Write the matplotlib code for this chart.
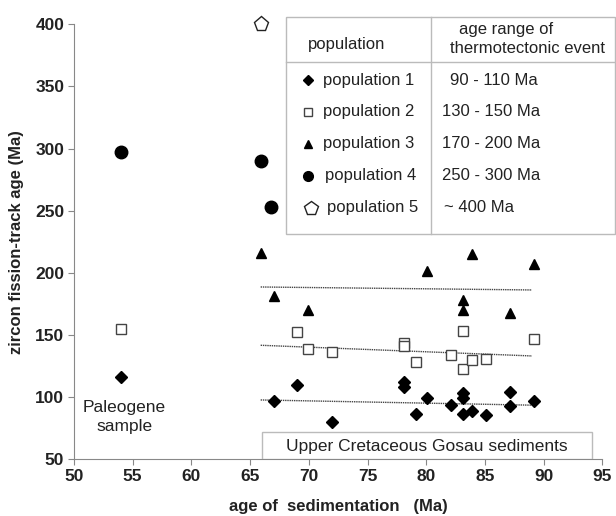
import matplotlib
matplotlib.use("Agg")
from matplotlib import pyplot as plt
from matplotlib.patches import Rectangle

plt.rcParams['font.family'] = ['Liberation Sans', 'DejaVu Sans']

# population 1 (diamonds)
pop1_x = [54, 67.0, 69.0, 72.0, 78.1, 78.1, 79.1, 80.1, 82.1, 83.1, 83.1, 83.1, 83.9, 85.1, 87.1, 87.1, 89.2]
pop1_y = [116, 97, 110, 80, 112, 108.5, 86.5, 99, 94, 103, 99, 86.5, 89, 85.5, 104.5, 93, 96.5]
# population 2 (open squares)
pop2_x = [54, 69.0, 69.9, 72.0, 78.1, 78.1, 79.1, 82.1, 83.1, 83.1, 83.9, 85.1, 89.2]
pop2_y = [154.5, 152, 139, 136, 143.5, 141, 128.5, 134, 153.5, 123, 129.5, 130.5, 147]
# population 3 (triangles)
pop3_x = [65.9, 67.0, 69.9, 80.1, 83.1, 83.1, 83.9, 87.1, 89.2]
pop3_y = [216, 181, 170, 201.5, 178, 170, 215, 167.5, 207]
# population 4 (circles)
pop4_x = [54, 65.9, 66.75]
pop4_y = [297, 290, 253]
# population 5 (pentagon)
pop5_x = [65.9]
pop5_y = [400]

# trend lines (start / end)
trend_x = [65.9, 89.0]
trend_y = [[97.7, 93.5], [141.7, 133.1], [188.6, 186.2]]

pop_labels = ['population 1', 'population 2', 'population 3', 'population 4', 'population 5']
age_ranges = ['90 - 110 Ma', '130 - 150 Ma', '170 - 200 Ma', '250 - 300 Ma', '~ 400 Ma']

styles = [
    dict(marker='D', ms=6.5, mfc='black', mec='black'),
    dict(marker='s', ms=6.5, mfc='white', mec='#444444', mew=1.0),
    dict(marker='^', ms=7.5, mfc='black', mec='black'),
    dict(marker='o', ms=9, mfc='black', mec='black'),
    dict(marker='p', ms=11, mfc='white', mec='#222222', mew=1.0),
]

fig = plt.figure(figsize=(6.16, 5.16), dpi=100)
ax = fig.add_axes([0.120, 0.110, 0.858, 0.843])

for ys in trend_y:
    ax.plot(trend_x, ys, color='#444444', lw=1.0, linestyle=(0, (1, 0.6)))

data = [(pop1_x, pop1_y), (pop2_x, pop2_y), (pop3_x, pop3_y), (pop4_x, pop4_y), (pop5_x, pop5_y)]
for (xs, ys), st in zip(data, styles):
    ax.plot(xs, ys, linestyle='none', clip_on=False, zorder=5, **st)

ax.set_xlim(50, 95)
ax.set_ylim(50, 400)
ax.set_xticks(range(50, 96, 5))
ax.set_yticks(range(50, 401, 50))
for lab in ax.get_xticklabels() + ax.get_yticklabels():
    lab.set_fontweight('bold')
    lab.set_fontsize(12.5)
    lab.set_color('#222222')
ax.tick_params(direction='out', length=4, color='#888888', pad=3)
for s in ['top', 'right']:
    ax.spines[s].set_visible(False)
for s in ['left', 'bottom']:
    ax.spines[s].set_color('#888888')

ax.set_xlabel('age of  sedimentation   (Ma)', fontsize=12, fontweight='bold', color='#222222', labelpad=11)
ax.set_ylabel('zircon fission-track age (Ma)', fontsize=12, fontweight='bold', color='#222222', labelpad=8)

# table-like legend box
box_col = '#bbbbbb'
ax.add_patch(Rectangle((68.06, 231.5), 28.0, 174.5, fill=False, ec=box_col, lw=1.0, clip_on=False, zorder=3))
ax.plot([68.06, 96.1], [369.8, 369.8], color=box_col, lw=1.0, clip_on=False)
ax.plot([80.38, 80.38], [231.5, 406], color=box_col, lw=1.0, clip_on=False)

fs = 12
ax.text(73.24, 384, 'population', fontsize=fs, ha='center', va='center', color='#222222')
ax.text(86.8, 396, 'age range of', fontsize=fs, ha='center', va='center', color='#222222')
ax.text(88.6, 380.6, 'thermotectonic event', fontsize=fs, ha='center', va='center', color='#222222')

row_y = [355, 329.5, 304, 278, 252.5]
marker_x = [69.95, 69.95, 69.95, 69.95, 70.15]
text_x = [71.18, 71.18, 71.18, 71.38, 71.58]
range_x = [82.0, 81.32, 81.32, 81.32, 81.52]
leg_ms = [5, 5.5, 6, 7, 10]
for i in range(5):
    st = dict(styles[i])
    st['ms'] = leg_ms[i]
    ax.plot([marker_x[i]], [row_y[i]], linestyle='none', clip_on=False, zorder=6, **st)
    ax.text(text_x[i], row_y[i], pop_labels[i], fontsize=fs, ha='left', va='center', color='#222222')
    ax.text(range_x[i], row_y[i], age_ranges[i], fontsize=fs, ha='left', va='center', color='#222222')

# annotations
ax.text(54.3, 92, 'Paleogene', fontsize=12.5, ha='center', va='center', color='#222222')
ax.text(54.3, 76, 'sample', fontsize=12.5, ha='center', va='center', color='#222222')
ax.add_patch(Rectangle((66.0, 50), 28.1, 21.7, fill=True, fc='white', ec=box_col, lw=1.0, zorder=3))
ax.text(80.05, 60.5, 'Upper Cretaceous Gosau sediments', fontsize=12.5, ha='center', va='center', color='#222222', zorder=4)

fig.savefig('out.png', dpi=100)
